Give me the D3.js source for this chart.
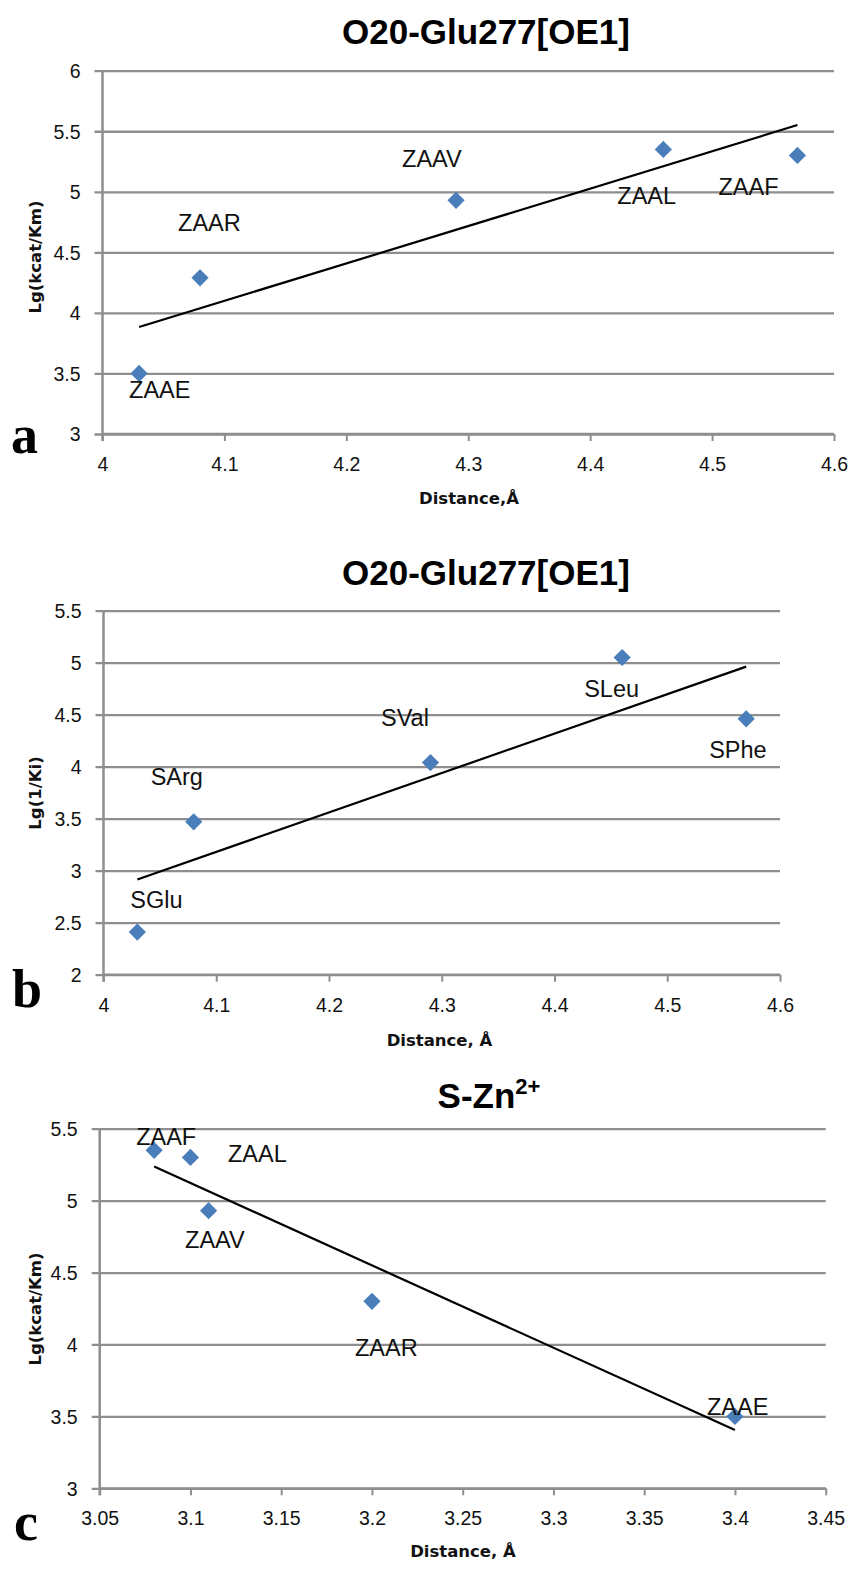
<!DOCTYPE html>
<html>
<head>
<meta charset="utf-8">
<script src="https://cdn.jsdelivr.net/npm/d3@7"></script>
<style>
  html, body { margin: 0; padding: 0; background: #fff; }
  svg { display: block; }
</style>
</head>
<body>
<svg id="chart" width="849" height="1569"></svg>
<script>
// ---------------- DATA ----------------
const panelA_distance = [4.03, 4.08, 4.29, 4.46, 4.57];
const panelA_value    = [3.50, 4.29, 4.93, 5.35, 5.30];
const panelA_names    = ["ZAAE", "ZAAR", "ZAAV", "ZAAL", "ZAAF"];
const panelA_xTicks   = [4, 4.1, 4.2, 4.3, 4.4, 4.5, 4.6];
const panelA_yTicks   = [3, 3.5, 4, 4.5, 5, 5.5, 6];

const panelB_distance = [4.03, 4.08, 4.29, 4.46, 4.57];
const panelB_value    = [2.41, 3.47, 4.04, 5.05, 4.46];
const panelB_names    = ["SGlu", "SArg", "SVal", "SLeu", "SPhe"];
const panelB_xTicks   = [4, 4.1, 4.2, 4.3, 4.4, 4.5, 4.6];
const panelB_yTicks   = [2, 2.5, 3, 3.5, 4, 4.5, 5, 5.5];

const panelC_distance = [3.08, 3.10, 3.11, 3.20, 3.40];
const panelC_value    = [5.35, 5.30, 4.93, 4.30, 3.50];
const panelC_names    = ["ZAAF", "ZAAL", "ZAAV", "ZAAR", "ZAAE"];
const panelC_xTicks   = [3.05, 3.1, 3.15, 3.2, 3.25, 3.3, 3.35, 3.4, 3.45];
const panelC_yTicks   = [3, 3.5, 4, 4.5, 5, 5.5];

// ---------------- LAYOUT / STYLE ----------------
const panels = [
  {
    xs: panelA_distance, ys: panelA_value, names: panelA_names,
    xTicks: panelA_xTicks, yTicks: panelA_yTicks,
    left: 102.5, right: 834, top: 70.7, bottom: 434,
    title: "O20-Glu277[OE1]", titleY: 43.5, titleX: 486,
    yTitle: "Lg(kcat/Km)", yTitleY: 257,
    xTitle: "Distance,Å", xTitleX: 469, xTitleY: 504,
    letter: "a", letterX: 11, letterY: 453,
    labelOffsets: [[-10, 25], [-22, -47], [-54, -33], [-46, 55], [-79, 40]]
  },
  {
    xs: panelB_distance, ys: panelB_value, names: panelB_names,
    xTicks: panelB_xTicks, yTicks: panelB_yTicks,
    left: 103.5, right: 780, top: 610.7, bottom: 974.7,
    title: "O20-Glu277[OE1]", titleY: 585, titleX: 486,
    yTitle: "Lg(1/Ki)", yTitleY: 793,
    xTitle: "Distance, Å", xTitleX: 439.5, xTitleY: 1046,
    letter: "b", letterX: 12, letterY: 1007,
    labelOffsets: [[-7, -24], [-43, -37], [-49.5, -37], [-38, 39], [-37, 39]]
  },
  {
    xs: panelC_distance, ys: panelC_value, names: panelC_names,
    xTicks: panelC_xTicks, yTicks: panelC_yTicks,
    left: 99.7, right: 825.7, top: 1128.7, bottom: 1488.3,
    title: "S-Zn", titleSup: "2+", titleY: 1108, titleX: 489,
    yTitle: "Lg(kcat/Km)", yTitleY: 1309,
    xTitle: "Distance, Å", xTitleX: 463, xTitleY: 1557,
    letter: "c", letterX: 14, letterY: 1540,
    labelOffsets: [[-18, -5], [37.5, 5], [-23.5, 37], [-17, 55], [-28, -1]]
  }
];

const gridColor = "#8e8e8e";
const markerColor = "#4a7ebb";
const tickFont = "'Liberation Sans', Arial, sans-serif";
const labelFont = "'Liberation Sans Narrow', 'Arial Narrow', 'Liberation Sans', sans-serif";
const titleFont = "'Liberation Sans', Arial, sans-serif";
const axisTitleFont = "'DejaVu Sans', Verdana, sans-serif";
const letterFont = "'Liberation Serif', 'Times New Roman', serif";

const svg = d3.select("#chart");

const diamond = {
  draw(ctx, size) {
    const r = Math.sqrt(size / 2);
    ctx.moveTo(0, -r); ctx.lineTo(r, 0); ctx.lineTo(0, r); ctx.lineTo(-r, 0); ctx.closePath();
  }
};
const symbolGen = d3.symbol().type(diamond).size(2 * 8.6 * 8.6);

function fit(xs, ys) {
  const n = xs.length;
  const mx = d3.mean(xs), my = d3.mean(ys);
  let sxy = 0, sxx = 0;
  for (let i = 0; i < n; i++) { sxy += (xs[i] - mx) * (ys[i] - my); sxx += (xs[i] - mx) ** 2; }
  const b = sxy / sxx, a = my - b * mx;
  return x => a + b * x;
}

panels.forEach(p => {
  const g = svg.append("g");
  const x = d3.scaleLinear().domain(d3.extent(p.xTicks)).range([p.left, p.right]);
  const y = d3.scaleLinear().domain(d3.extent(p.yTicks)).range([p.bottom, p.top]);

  // y axis (gridlines extend left as ticks)
  const yAxis = d3.axisLeft(y).tickValues(p.yTicks)
    .tickSize(-(p.right - p.left) - 8).tickSizeOuter(0).tickPadding(0)
    .tickFormat(d => d3.format("")(d));
  const yg = g.append("g").attr("transform", `translate(${p.right},0)`).call(yAxis);
  yg.select(".domain").remove();
  yg.selectAll(".tick line").attr("x1", 0).attr("x2", -(p.right - p.left) - 8)
    .attr("stroke", gridColor).attr("stroke-width", 2.3);
  yg.selectAll(".tick text")
    .attr("x", -(p.right - p.left) - 22).attr("dy", "0.35em")
    .attr("text-anchor", "end")
    .style("font-family", tickFont).style("font-size", "19.5px").attr("fill", "#111");

  // x axis
  const xAxis = d3.axisBottom(x).tickValues(p.xTicks)
    .tickSize(7).tickSizeOuter(0).tickPadding(0)
    .tickFormat(d => d3.format("")(+d.toFixed(2)));
  const xg = g.append("g").attr("transform", `translate(0,${p.bottom})`).call(xAxis);
  xg.select(".domain").attr("stroke", gridColor).attr("stroke-width", 2.3)
    .attr("d", `M${p.left},0H${p.right}`);
  xg.selectAll(".tick line").attr("stroke", gridColor).attr("stroke-width", 2);
  xg.selectAll(".tick text").attr("y", 37).attr("dy", null)
    .style("font-family", tickFont).style("font-size", "19.5px").attr("fill", "#111");

  // vertical y-axis line
  g.append("line")
    .attr("x1", p.left).attr("x2", p.left)
    .attr("y1", y(d3.max(p.yTicks))).attr("y2", p.bottom + 7)
    .attr("stroke", gridColor).attr("stroke-width", 2.5);

  // trend line
  const f = fit(p.xs, p.ys);
  const x0 = d3.min(p.xs), x1 = d3.max(p.xs);
  g.append("line")
    .attr("x1", x(x0)).attr("y1", y(f(x0)))
    .attr("x2", x(x1)).attr("y2", y(f(x1)))
    .attr("stroke", "#000").attr("stroke-width", 2.2);

  // markers
  g.selectAll("path.pt").data(p.xs.map((d, i) => ({ x: d, y: p.ys[i] })))
    .join("path").attr("class", "pt")
    .attr("d", symbolGen)
    .attr("transform", d => `translate(${x(d.x)},${y(d.y)})`)
    .attr("fill", markerColor);

  // point labels
  g.selectAll("text.lbl").data(p.names)
    .join("text").attr("class", "lbl")
    .attr("x", (d, i) => x(p.xs[i]) + p.labelOffsets[i][0])
    .attr("y", (d, i) => y(p.ys[i]) + p.labelOffsets[i][1])
    .style("font-family", labelFont).style("font-size", "23.5px").attr("fill", "#111")
    .text(d => d);

  // title
  const t = g.append("text")
    .attr("x", p.titleX).attr("y", p.titleY).attr("text-anchor", "middle")
    .style("font-family", titleFont).style("font-size", "35px").style("font-weight", "bold")
    .attr("fill", "#000");
  t.append("tspan").text(p.title);
  if (p.titleSup) {
    t.append("tspan").attr("dy", -14).style("font-size", "22px").text(p.titleSup);
  }

  // y title
  g.append("text")
    .attr("transform", `translate(41,${p.yTitleY}) rotate(-90)`)
    .attr("text-anchor", "middle")
    .style("font-family", axisTitleFont).style("font-size", "16.5px").style("font-weight", "bold")
    .attr("fill", "#111").text(p.yTitle);

  // x title
  g.append("text")
    .attr("x", p.xTitleX).attr("y", p.xTitleY).attr("text-anchor", "middle")
    .style("font-family", axisTitleFont).style("font-size", "16.5px").style("font-weight", "bold")
    .attr("fill", "#111").text(p.xTitle);

  // panel letter
  g.append("text")
    .attr("x", p.letterX).attr("y", p.letterY)
    .style("font-family", letterFont).style("font-size", "54px").style("font-weight", "bold")
    .attr("fill", "#000").text(p.letter);
});
</script>
</body>
</html>
